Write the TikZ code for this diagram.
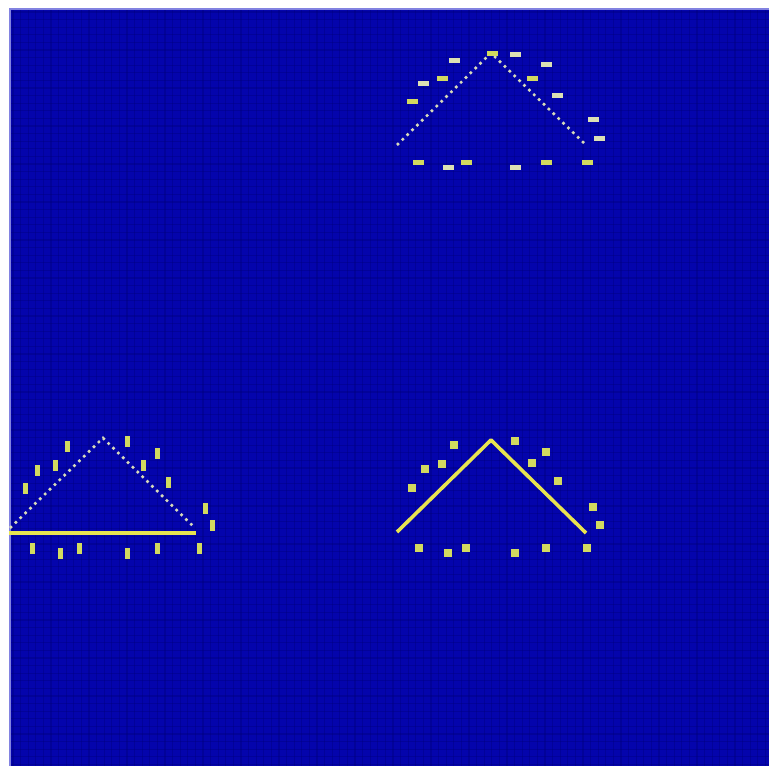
\documentclass[tikz,border=0pt]{standalone}
\definecolor{bg}{RGB}{4,4,172}
\definecolor{gridc}{RGB}{0,0,110}
\definecolor{edgec}{RGB}{130,130,225}
\definecolor{paleline}{RGB}{215,218,185}
\definecolor{markw}{RGB}{220,224,180}
\definecolor{markg}{RGB}{210,218,95}
\definecolor{yel}{RGB}{232,228,80}
\tikzset{
  dotline/.style={paleline, line width=2.6pt, dash pattern=on 2.6pt off 4.2pt},
  yline/.style={yel, line width=3.6pt, line join=round},
  baseline/.style={yel, line width=4pt},
  gridline/.style={gridc, line width=1.2pt, opacity=0.3}
}
\begin{document}
\begin{tikzpicture}[x=1pt,y=-1pt]
\useasboundingbox (0,0) rectangle (769,766);
\fill[white] (0,0) rectangle (769,766);
\fill[bg] (9,8) rectangle (769,766);
% grid
\foreach \i in {0,...,99} {
  \draw[gridline] ({13+7.6*\i},8) -- ({13+7.6*\i},766);
  \draw[gridline] (9,{12+7.6*\i}) -- (769,{12+7.6*\i});
}
\draw[edgec, line width=1.6pt] (9.8,766) -- (9.8,8.8) -- (769,8.8);
% triangle vertices
\coordinate (tL) at (397,145);
\coordinate (tA) at (491,53);
\coordinate (tR) at (586,145);
\coordinate (lL) at (10,528);
\coordinate (lA) at (103,438);
\coordinate (lR) at (195,528);
\coordinate (bL0) at (9,533);
\coordinate (bR0) at (196,533);
\coordinate (rL) at (397,532);
\coordinate (rA) at (491,440);
\coordinate (rR) at (586,533);
% top triangle
\draw[dotline] (tL) -- (tA) -- (tR);
\foreach \x/\y in {454/60,515/54,546/64,423/83,557/95,593/119,599/138,448/167,515/167}
  \fill[markw] ({\x-5.5},{\y-2.5}) rectangle ++(11,5);
\foreach \x/\y in {492/53,442/78,532/78,412/101,418/162,466/162,546/162,587/162}
  \fill[markg] ({\x-5.5},{\y-2.5}) rectangle ++(11,5);
% bottom-left triangle
\draw[dotline] (lL) -- (lA) -- (lR);
\draw[baseline] (bL0) -- (bR0);
\foreach \x/\y in {67/446,127/441,157/453,37/470,55/465,143/465,168/482,25/488,205/508,212/525,32/548,60/553,79/548,127/553,157/548,199/548}
  \fill[markg] ({\x-2.5},{\y-5.5}) rectangle ++(5,11);
% bottom-right triangle
\draw[yline] (rL) -- (rA) -- (rR);
\foreach \x/\y in {454/445,515/441,546/452,425/469,442/464,532/463,558/481,412/488,593/507,600/525,419/548,448/553,466/548,515/553,546/548,587/548}
  \fill[markg] ({\x-4},{\y-4}) rectangle ++(8,8);
\end{tikzpicture}
\end{document}
